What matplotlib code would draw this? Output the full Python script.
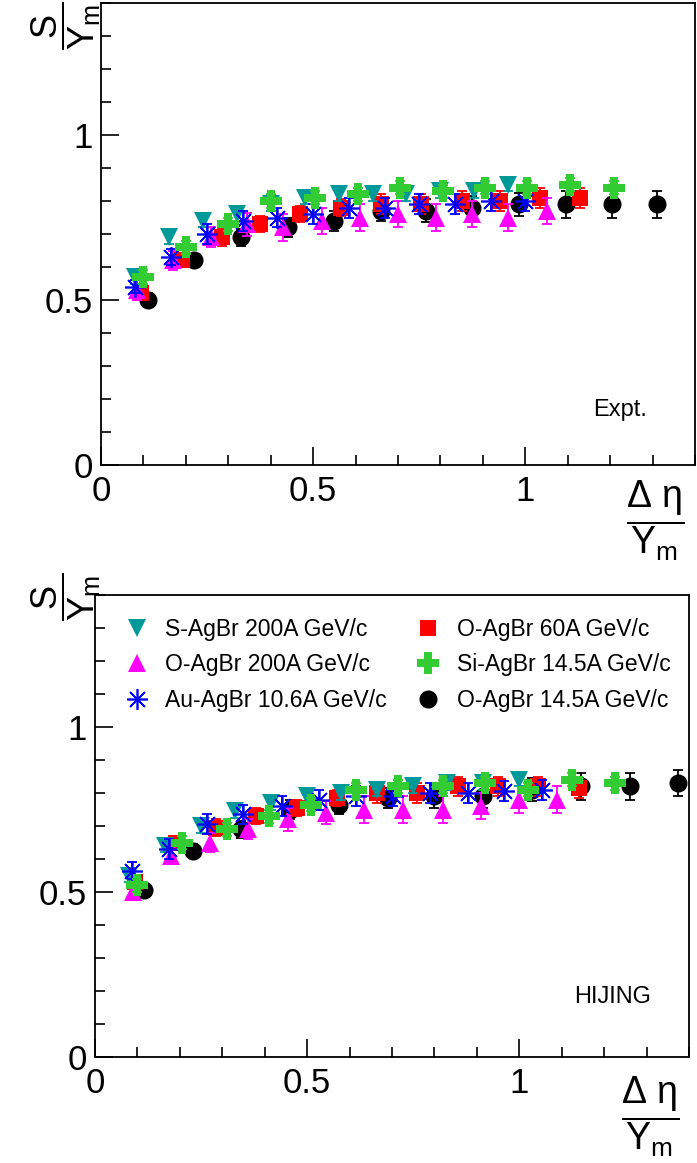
import matplotlib
matplotlib.use('Agg')
import matplotlib.pyplot as plt

plt.rcParams['font.family'] = ['Liberation Sans', 'DejaVu Sans']
plt.rcParams['mathtext.fontset'] = 'custom'
plt.rcParams['mathtext.rm'] = 'Liberation Sans'
plt.rcParams['mathtext.it'] = 'Liberation Sans'
plt.rcParams['mathtext.bf'] = 'Liberation Sans:bold'

labels = ['S-AgBr 200A GeV/c', 'O-AgBr 200A GeV/c', 'Au-AgBr 10.6A GeV/c',
          'O-AgBr 60A GeV/c', 'Si-AgBr 14.5A GeV/c', 'O-AgBr 14.5A GeV/c']

# ---------------- Experimental data (top panel) ----------------
expt_s200_x = [0.08, 0.16, 0.24, 0.32, 0.40, 0.48, 0.56, 0.64, 0.72, 0.80, 0.88, 0.96]
expt_s200_y = [0.57, 0.69, 0.74, 0.76, 0.79, 0.81, 0.82, 0.82, 0.82, 0.83, 0.83, 0.85]
expt_s200_e = [0.02, 0.02, 0.02, 0.02, 0.02, 0.02, 0.02, 0.02, 0.02, 0.02, 0.02, 0.02]

expt_o200_x = [0.085, 0.17, 0.26, 0.345, 0.43, 0.52, 0.61, 0.70, 0.79, 0.875, 0.96, 1.05]
expt_o200_y = [0.53, 0.62, 0.69, 0.73, 0.72, 0.74, 0.75, 0.76, 0.75, 0.76, 0.75, 0.77]
expt_o200_e = [0.03, 0.03, 0.03, 0.035, 0.04, 0.04, 0.04, 0.04, 0.04, 0.04, 0.04, 0.04]

expt_au106_x = [0.08, 0.165, 0.25, 0.335, 0.415, 0.50, 0.585, 0.67, 0.75, 0.835, 0.92, 1.00]
expt_au106_y = [0.54, 0.63, 0.70, 0.74, 0.75, 0.76, 0.78, 0.78, 0.79, 0.79, 0.80, 0.80]
expt_au106_e = [0.02, 0.025, 0.03, 0.03, 0.03, 0.03, 0.03, 0.03, 0.03, 0.03, 0.03, 0.03]

expt_o60_x = [0.095, 0.19, 0.285, 0.375, 0.47, 0.565, 0.66, 0.755, 0.85, 0.94, 1.035, 1.13]
expt_o60_y = [0.52, 0.62, 0.69, 0.73, 0.76, 0.78, 0.79, 0.79, 0.80, 0.80, 0.81, 0.81]
expt_o60_e = [0.02, 0.02, 0.025, 0.025, 0.025, 0.025, 0.03, 0.03, 0.03, 0.03, 0.03, 0.03]

expt_si145_x = [0.10, 0.20, 0.30, 0.40, 0.505, 0.605, 0.705, 0.805, 0.905, 1.005, 1.105, 1.21]
expt_si145_y = [0.57, 0.66, 0.73, 0.80, 0.81, 0.82, 0.84, 0.83, 0.84, 0.84, 0.85, 0.84]
expt_si145_e = [0.02, 0.02, 0.02, 0.02, 0.02, 0.02, 0.02, 0.02, 0.02, 0.02, 0.02, 0.02]

expt_o145_x = [0.11, 0.22, 0.33, 0.44, 0.55, 0.66, 0.765, 0.875, 0.985, 1.095, 1.205, 1.31]
expt_o145_y = [0.50, 0.62, 0.69, 0.72, 0.74, 0.77, 0.77, 0.78, 0.79, 0.79, 0.79, 0.79]
expt_o145_e = [0.02, 0.02, 0.025, 0.03, 0.03, 0.03, 0.035, 0.035, 0.035, 0.04, 0.04, 0.04]

# ---------------- HIJING data (bottom panel) ----------------
hij_s200_x = [0.08, 0.165, 0.25, 0.33, 0.415, 0.50, 0.58, 0.665, 0.75, 0.83, 0.915, 1.00]
hij_s200_y = [0.55, 0.64, 0.70, 0.745, 0.77, 0.79, 0.80, 0.81, 0.82, 0.83, 0.83, 0.84]
hij_s200_e = [0.02, 0.02, 0.02, 0.02, 0.02, 0.02, 0.02, 0.02, 0.02, 0.02, 0.02, 0.02]

hij_o200_x = [0.09, 0.18, 0.27, 0.36, 0.455, 0.545, 0.635, 0.725, 0.82, 0.91, 1.00, 1.09]
hij_o200_y = [0.50, 0.61, 0.65, 0.69, 0.72, 0.74, 0.75, 0.75, 0.75, 0.76, 0.78, 0.78]
hij_o200_e = [0.02, 0.025, 0.03, 0.03, 0.035, 0.035, 0.04, 0.04, 0.04, 0.04, 0.04, 0.04]

hij_au106_x = [0.087, 0.175, 0.263, 0.35, 0.44, 0.527, 0.615, 0.703, 0.79, 0.878, 0.965, 1.053]
hij_au106_y = [0.565, 0.63, 0.705, 0.735, 0.76, 0.78, 0.79, 0.79, 0.80, 0.80, 0.805, 0.81]
hij_au106_e = [0.025, 0.03, 0.03, 0.03, 0.03, 0.03, 0.03, 0.03, 0.03, 0.03, 0.03, 0.03]

hij_o60_x = [0.095, 0.19, 0.285, 0.38, 0.475, 0.57, 0.665, 0.76, 0.855, 0.95, 1.045, 1.14]
hij_o60_y = [0.53, 0.65, 0.695, 0.73, 0.755, 0.785, 0.80, 0.80, 0.82, 0.82, 0.82, 0.815]
hij_o60_e = [0.02, 0.02, 0.025, 0.025, 0.025, 0.025, 0.03, 0.03, 0.03, 0.03, 0.03, 0.03]

hij_si145_x = [0.10, 0.205, 0.31, 0.41, 0.51, 0.615, 0.715, 0.82, 0.92, 1.02, 1.125, 1.225]
hij_si145_y = [0.52, 0.65, 0.69, 0.73, 0.765, 0.81, 0.82, 0.82, 0.83, 0.81, 0.84, 0.83]
hij_si145_e = [0.02, 0.02, 0.02, 0.02, 0.02, 0.02, 0.02, 0.02, 0.02, 0.02, 0.02, 0.02]

hij_o145_x = [0.115, 0.23, 0.345, 0.46, 0.575, 0.69, 0.80, 0.915, 1.03, 1.145, 1.26, 1.375]
hij_o145_y = [0.505, 0.625, 0.69, 0.75, 0.765, 0.785, 0.79, 0.79, 0.81, 0.82, 0.82, 0.83]
hij_o145_e = [0.02, 0.02, 0.025, 0.03, 0.03, 0.03, 0.035, 0.035, 0.035, 0.04, 0.04, 0.04]

expt = [(expt_s200_x, expt_s200_y, expt_s200_e),
        (expt_o200_x, expt_o200_y, expt_o200_e),
        (expt_au106_x, expt_au106_y, expt_au106_e),
        (expt_o60_x, expt_o60_y, expt_o60_e),
        (expt_si145_x, expt_si145_y, expt_si145_e),
        (expt_o145_x, expt_o145_y, expt_o145_e)]
hij = [(hij_s200_x, hij_s200_y, hij_s200_e),
       (hij_o200_x, hij_o200_y, hij_o200_e),
       (hij_au106_x, hij_au106_y, hij_au106_e),
       (hij_o60_x, hij_o60_y, hij_o60_e),
       (hij_si145_x, hij_si145_y, hij_si145_e),
       (hij_o145_x, hij_o145_y, hij_o145_e)]

# styles: color, marker, size, edge width, z-order
styles = [
    dict(color='#009999', marker='v', ms=13.5, mew=0, z=4),
    dict(color='#ff00ff', marker='^', ms=13.5, mew=0, z=3),
    dict(color='#0000ff', marker=(8, 2, 0), ms=15, mew=1.2, z=5),
    dict(color='#ff0000', marker='s', ms=12, mew=0, z=2),
    dict(color='#33cc33', marker='P', ms=16, mew=0, z=6),
    dict(color='#000000', marker='o', ms=13, mew=0, z=1),
]

W, H = 697, 1163
fig = plt.figure(figsize=(W / 100, H / 100), dpi=100)

ax1 = fig.add_axes([101 / W, 1 - 465 / H, 594 / W, 462 / H])
ax2 = fig.add_axes([95 / W, 1 - 1057 / H, 594 / W, 462 / H])


def draw(ax, data):
    handles = []
    for (x, y, e), st in zip(data, styles):
        ax.errorbar(x, y, yerr=e, fmt='none', ecolor=st['color'],
                    elinewidth=1.3, capsize=3.5, capthick=1.3,
                    zorder=st['z'])
        ln, = ax.plot(x, y, linestyle='none', marker=st['marker'],
                      markersize=st['ms'], color=st['color'],
                      markeredgecolor=st['color'], markeredgewidth=st['mew'],
                      zorder=st['z'] + 0.5)
        handles.append(ln)
    ax.set_xlim(0, 1.4)
    ax.set_ylim(0, 1.4)
    ax.set_xticks([0, 0.5, 1])
    ax.set_xticklabels(['0', '0.5', '1'])
    ax.set_yticks([0, 0.5, 1])
    ax.set_yticklabels(['0', '0.5', '1'])
    ax.set_xticks([0.1 * i for i in range(15)], minor=True)
    ax.set_yticks([0.1 * i for i in range(15)], minor=True)
    ax.tick_params(which='both', direction='in', top=False, right=False,
                   labelsize=25, width=1.2)
    ax.tick_params(which='major', length=13)
    ax.tick_params(which='minor', length=7)
    ax.tick_params(axis='y', pad=6)
    ax.tick_params(axis='x', pad=7)
    for s in ax.spines.values():
        s.set_linewidth(1.3)
    return handles


draw(ax1, expt)
handles = draw(ax2, hij)

ax1.text(0.874, 0.119, 'Expt.', transform=ax1.transAxes, fontsize=17,
         ha='center', va='center')
ax2.text(0.872, 0.13, 'HIJING', transform=ax2.transAxes, fontsize=17,
         ha='center', va='center')

ax2.legend(handles, labels, ncol=2, loc='upper left',
           bbox_to_anchor=(0.051, 0.95), frameon=False, fontsize=16.5,
           borderpad=0, borderaxespad=0, handlelength=1.0,
           handletextpad=0.75, columnspacing=1.3, labelspacing=0.54)

ylab = r'$\dfrac{\mathrm{S}}{\mathrm{Y_m}}$'
xlab = r'$\dfrac{\Delta\ \eta}{\mathrm{Y_m}}$'
fig.text(66 / W, 1 - 26 / H, ylab, rotation=90, fontsize=26,
         ha='center', va='center')
fig.text(66 / W, 1 - 597 / H, ylab, rotation=90, fontsize=26,
         ha='center', va='center')
fig.text(655 / W, 1 - 521 / H, xlab, fontsize=27, ha='center', va='center')
fig.text(650 / W, 1 - 1117 / H, xlab, fontsize=27, ha='center', va='center')

fig.savefig('out.png', dpi=100)
